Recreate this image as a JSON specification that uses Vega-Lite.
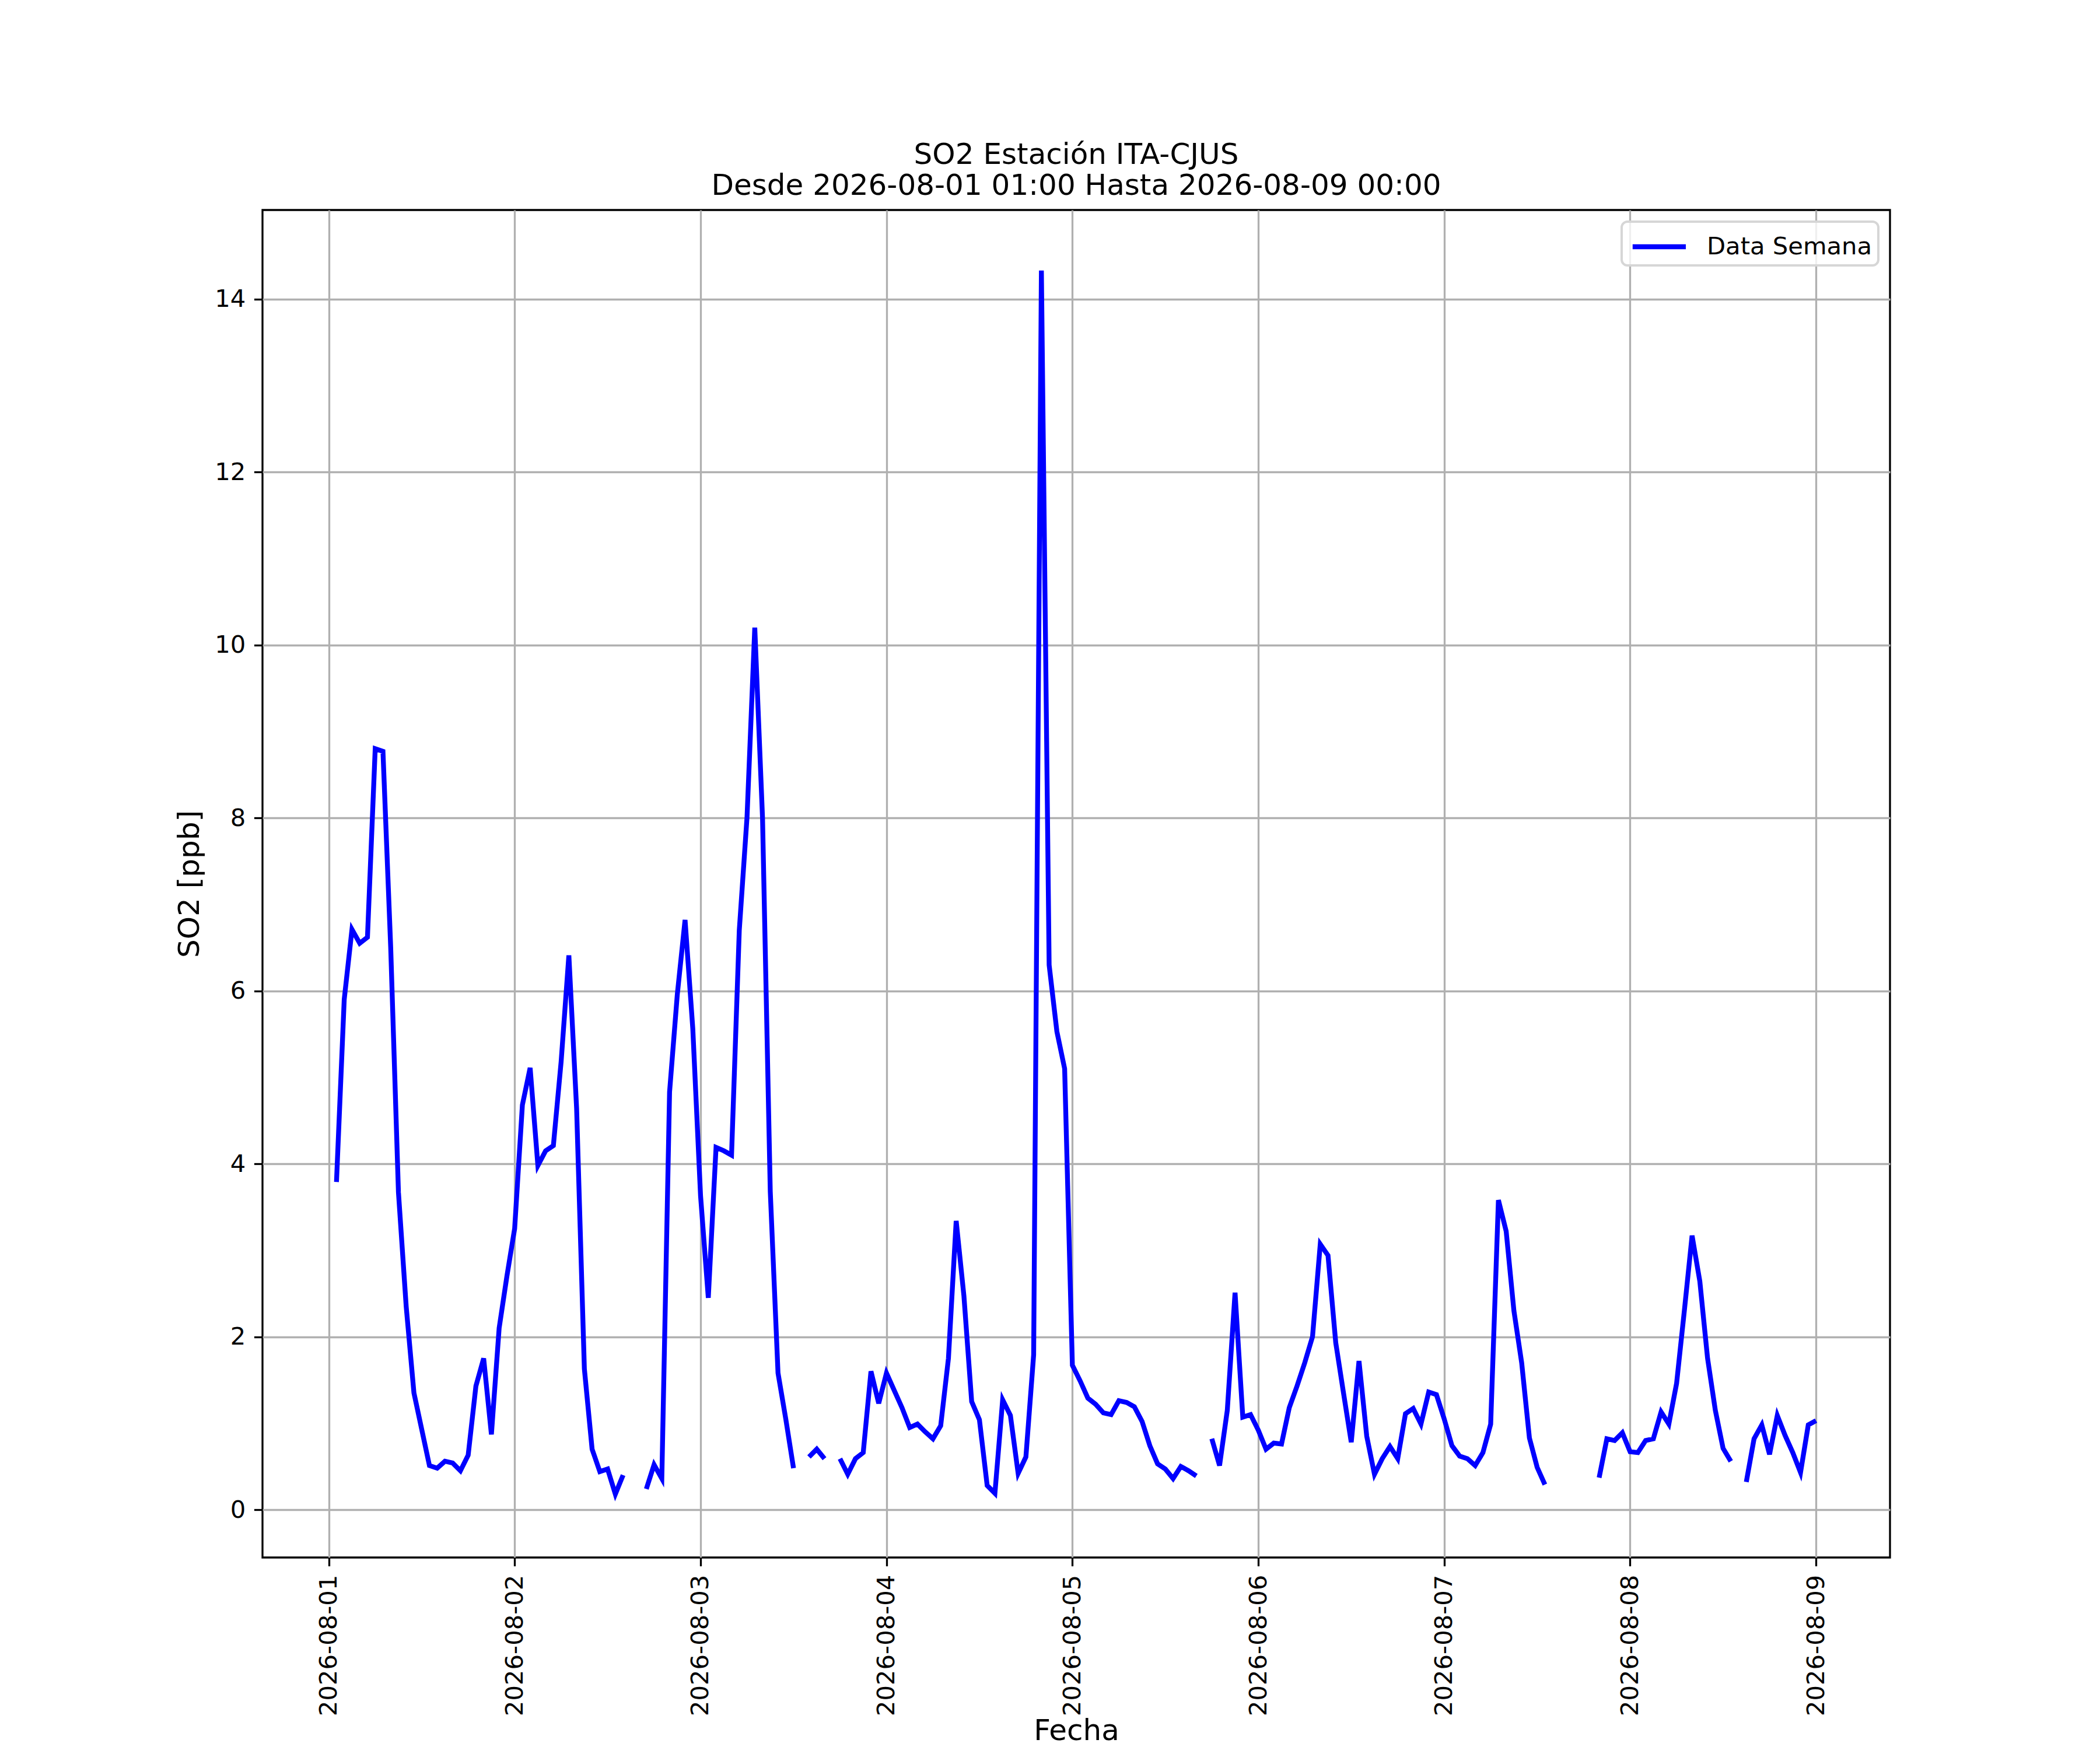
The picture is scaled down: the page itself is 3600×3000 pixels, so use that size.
{
  "$schema": "https://vega.github.io/schema/vega-lite/v6.json",
  "width": 2790,
  "height": 2310,
  "autosize": "none",
  "padding": {"left": 450, "top": 360, "right": 360, "bottom": 330},
  "background": "white",
  "title": {
    "text": ["SO2 Estación ITA-CJUS", "Desde 2026-08-01 01:00 Hasta 2026-08-09 00:00"],
    "font": "DejaVu Sans",
    "fontSize": 50,
    "fontWeight": "normal",
    "color": "black",
    "lineHeight": 53,
    "anchor": "middle",
    "baseline": "bottom",
    "offset": -34
  },
  "data": {
    "values": [
      {"Fecha": "2026-08-01T01:00:00Z", "SO2": 3.79},
      {"Fecha": "2026-08-01T02:00:00Z", "SO2": 5.90},
      {"Fecha": "2026-08-01T03:00:00Z", "SO2": 6.71},
      {"Fecha": "2026-08-01T04:00:00Z", "SO2": 6.55},
      {"Fecha": "2026-08-01T05:00:00Z", "SO2": 6.62},
      {"Fecha": "2026-08-01T06:00:00Z", "SO2": 8.80},
      {"Fecha": "2026-08-01T07:00:00Z", "SO2": 8.77},
      {"Fecha": "2026-08-01T08:00:00Z", "SO2": 6.50},
      {"Fecha": "2026-08-01T09:00:00Z", "SO2": 3.67},
      {"Fecha": "2026-08-01T10:00:00Z", "SO2": 2.35},
      {"Fecha": "2026-08-01T11:00:00Z", "SO2": 1.35},
      {"Fecha": "2026-08-01T12:00:00Z", "SO2": 0.93},
      {"Fecha": "2026-08-01T13:00:00Z", "SO2": 0.51},
      {"Fecha": "2026-08-01T14:00:00Z", "SO2": 0.48},
      {"Fecha": "2026-08-01T15:00:00Z", "SO2": 0.56},
      {"Fecha": "2026-08-01T16:00:00Z", "SO2": 0.54},
      {"Fecha": "2026-08-01T17:00:00Z", "SO2": 0.45},
      {"Fecha": "2026-08-01T18:00:00Z", "SO2": 0.63},
      {"Fecha": "2026-08-01T19:00:00Z", "SO2": 1.43},
      {"Fecha": "2026-08-01T20:00:00Z", "SO2": 1.75},
      {"Fecha": "2026-08-01T21:00:00Z", "SO2": 0.87},
      {"Fecha": "2026-08-01T22:00:00Z", "SO2": 2.10},
      {"Fecha": "2026-08-01T23:00:00Z", "SO2": 2.70},
      {"Fecha": "2026-08-02T00:00:00Z", "SO2": 3.25},
      {"Fecha": "2026-08-02T01:00:00Z", "SO2": 4.68},
      {"Fecha": "2026-08-02T02:00:00Z", "SO2": 5.11},
      {"Fecha": "2026-08-02T03:00:00Z", "SO2": 3.98},
      {"Fecha": "2026-08-02T04:00:00Z", "SO2": 4.15},
      {"Fecha": "2026-08-02T05:00:00Z", "SO2": 4.21},
      {"Fecha": "2026-08-02T06:00:00Z", "SO2": 5.18},
      {"Fecha": "2026-08-02T07:00:00Z", "SO2": 6.41},
      {"Fecha": "2026-08-02T08:00:00Z", "SO2": 4.64},
      {"Fecha": "2026-08-02T09:00:00Z", "SO2": 1.63},
      {"Fecha": "2026-08-02T10:00:00Z", "SO2": 0.70},
      {"Fecha": "2026-08-02T11:00:00Z", "SO2": 0.44},
      {"Fecha": "2026-08-02T12:00:00Z", "SO2": 0.47},
      {"Fecha": "2026-08-02T13:00:00Z", "SO2": 0.18},
      {"Fecha": "2026-08-02T14:00:00Z", "SO2": 0.40},
      {"Fecha": "2026-08-02T15:00:00Z", "SO2": null},
      {"Fecha": "2026-08-02T16:00:00Z", "SO2": null},
      {"Fecha": "2026-08-02T17:00:00Z", "SO2": 0.24},
      {"Fecha": "2026-08-02T18:00:00Z", "SO2": 0.52},
      {"Fecha": "2026-08-02T19:00:00Z", "SO2": 0.36},
      {"Fecha": "2026-08-02T20:00:00Z", "SO2": 4.83},
      {"Fecha": "2026-08-02T21:00:00Z", "SO2": 5.96},
      {"Fecha": "2026-08-02T22:00:00Z", "SO2": 6.82},
      {"Fecha": "2026-08-02T23:00:00Z", "SO2": 5.56},
      {"Fecha": "2026-08-03T00:00:00Z", "SO2": 3.63},
      {"Fecha": "2026-08-03T01:00:00Z", "SO2": 2.45},
      {"Fecha": "2026-08-03T02:00:00Z", "SO2": 4.19},
      {"Fecha": "2026-08-03T03:00:00Z", "SO2": 4.15},
      {"Fecha": "2026-08-03T04:00:00Z", "SO2": 4.10},
      {"Fecha": "2026-08-03T05:00:00Z", "SO2": 6.70},
      {"Fecha": "2026-08-03T06:00:00Z", "SO2": 8.01},
      {"Fecha": "2026-08-03T07:00:00Z", "SO2": 10.20},
      {"Fecha": "2026-08-03T08:00:00Z", "SO2": 8.00},
      {"Fecha": "2026-08-03T09:00:00Z", "SO2": 3.68},
      {"Fecha": "2026-08-03T10:00:00Z", "SO2": 1.58},
      {"Fecha": "2026-08-03T11:00:00Z", "SO2": 1.05},
      {"Fecha": "2026-08-03T12:00:00Z", "SO2": 0.48},
      {"Fecha": "2026-08-03T13:00:00Z", "SO2": null},
      {"Fecha": "2026-08-03T14:00:00Z", "SO2": 0.61},
      {"Fecha": "2026-08-03T15:00:00Z", "SO2": 0.70},
      {"Fecha": "2026-08-03T16:00:00Z", "SO2": 0.59},
      {"Fecha": "2026-08-03T17:00:00Z", "SO2": null},
      {"Fecha": "2026-08-03T18:00:00Z", "SO2": 0.59},
      {"Fecha": "2026-08-03T19:00:00Z", "SO2": 0.41},
      {"Fecha": "2026-08-03T20:00:00Z", "SO2": 0.59},
      {"Fecha": "2026-08-03T21:00:00Z", "SO2": 0.66},
      {"Fecha": "2026-08-03T22:00:00Z", "SO2": 1.60},
      {"Fecha": "2026-08-03T23:00:00Z", "SO2": 1.23},
      {"Fecha": "2026-08-04T00:00:00Z", "SO2": 1.58},
      {"Fecha": "2026-08-04T01:00:00Z", "SO2": 1.38},
      {"Fecha": "2026-08-04T02:00:00Z", "SO2": 1.18},
      {"Fecha": "2026-08-04T03:00:00Z", "SO2": 0.95},
      {"Fecha": "2026-08-04T04:00:00Z", "SO2": 0.99},
      {"Fecha": "2026-08-04T05:00:00Z", "SO2": 0.90},
      {"Fecha": "2026-08-04T06:00:00Z", "SO2": 0.82},
      {"Fecha": "2026-08-04T07:00:00Z", "SO2": 0.97},
      {"Fecha": "2026-08-04T08:00:00Z", "SO2": 1.75},
      {"Fecha": "2026-08-04T09:00:00Z", "SO2": 3.34},
      {"Fecha": "2026-08-04T10:00:00Z", "SO2": 2.47},
      {"Fecha": "2026-08-04T11:00:00Z", "SO2": 1.25},
      {"Fecha": "2026-08-04T12:00:00Z", "SO2": 1.04},
      {"Fecha": "2026-08-04T13:00:00Z", "SO2": 0.28},
      {"Fecha": "2026-08-04T14:00:00Z", "SO2": 0.19},
      {"Fecha": "2026-08-04T15:00:00Z", "SO2": 1.27},
      {"Fecha": "2026-08-04T16:00:00Z", "SO2": 1.09},
      {"Fecha": "2026-08-04T17:00:00Z", "SO2": 0.42},
      {"Fecha": "2026-08-04T18:00:00Z", "SO2": 0.61},
      {"Fecha": "2026-08-04T19:00:00Z", "SO2": 1.79},
      {"Fecha": "2026-08-04T20:00:00Z", "SO2": 14.33},
      {"Fecha": "2026-08-04T21:00:00Z", "SO2": 6.30},
      {"Fecha": "2026-08-04T22:00:00Z", "SO2": 5.53},
      {"Fecha": "2026-08-04T23:00:00Z", "SO2": 5.10},
      {"Fecha": "2026-08-05T00:00:00Z", "SO2": 1.67},
      {"Fecha": "2026-08-05T01:00:00Z", "SO2": 1.49},
      {"Fecha": "2026-08-05T02:00:00Z", "SO2": 1.29},
      {"Fecha": "2026-08-05T03:00:00Z", "SO2": 1.22},
      {"Fecha": "2026-08-05T04:00:00Z", "SO2": 1.12},
      {"Fecha": "2026-08-05T05:00:00Z", "SO2": 1.10},
      {"Fecha": "2026-08-05T06:00:00Z", "SO2": 1.26},
      {"Fecha": "2026-08-05T07:00:00Z", "SO2": 1.24},
      {"Fecha": "2026-08-05T08:00:00Z", "SO2": 1.19},
      {"Fecha": "2026-08-05T09:00:00Z", "SO2": 1.02},
      {"Fecha": "2026-08-05T10:00:00Z", "SO2": 0.74},
      {"Fecha": "2026-08-05T11:00:00Z", "SO2": 0.53},
      {"Fecha": "2026-08-05T12:00:00Z", "SO2": 0.47},
      {"Fecha": "2026-08-05T13:00:00Z", "SO2": 0.36},
      {"Fecha": "2026-08-05T14:00:00Z", "SO2": 0.50},
      {"Fecha": "2026-08-05T15:00:00Z", "SO2": 0.45},
      {"Fecha": "2026-08-05T16:00:00Z", "SO2": 0.39},
      {"Fecha": "2026-08-05T17:00:00Z", "SO2": null},
      {"Fecha": "2026-08-05T18:00:00Z", "SO2": 0.82},
      {"Fecha": "2026-08-05T19:00:00Z", "SO2": 0.51},
      {"Fecha": "2026-08-05T20:00:00Z", "SO2": 1.15},
      {"Fecha": "2026-08-05T21:00:00Z", "SO2": 2.51},
      {"Fecha": "2026-08-05T22:00:00Z", "SO2": 1.07},
      {"Fecha": "2026-08-05T23:00:00Z", "SO2": 1.10},
      {"Fecha": "2026-08-06T00:00:00Z", "SO2": 0.92},
      {"Fecha": "2026-08-06T01:00:00Z", "SO2": 0.70},
      {"Fecha": "2026-08-06T02:00:00Z", "SO2": 0.77},
      {"Fecha": "2026-08-06T03:00:00Z", "SO2": 0.76},
      {"Fecha": "2026-08-06T04:00:00Z", "SO2": 1.18},
      {"Fecha": "2026-08-06T05:00:00Z", "SO2": 1.43},
      {"Fecha": "2026-08-06T06:00:00Z", "SO2": 1.70},
      {"Fecha": "2026-08-06T07:00:00Z", "SO2": 2.00},
      {"Fecha": "2026-08-06T08:00:00Z", "SO2": 3.07},
      {"Fecha": "2026-08-06T09:00:00Z", "SO2": 2.94},
      {"Fecha": "2026-08-06T10:00:00Z", "SO2": 1.93},
      {"Fecha": "2026-08-06T11:00:00Z", "SO2": 1.35},
      {"Fecha": "2026-08-06T12:00:00Z", "SO2": 0.78},
      {"Fecha": "2026-08-06T13:00:00Z", "SO2": 1.72},
      {"Fecha": "2026-08-06T14:00:00Z", "SO2": 0.85},
      {"Fecha": "2026-08-06T15:00:00Z", "SO2": 0.41},
      {"Fecha": "2026-08-06T16:00:00Z", "SO2": 0.59},
      {"Fecha": "2026-08-06T17:00:00Z", "SO2": 0.73},
      {"Fecha": "2026-08-06T18:00:00Z", "SO2": 0.59},
      {"Fecha": "2026-08-06T19:00:00Z", "SO2": 1.11},
      {"Fecha": "2026-08-06T20:00:00Z", "SO2": 1.17},
      {"Fecha": "2026-08-06T21:00:00Z", "SO2": 0.99},
      {"Fecha": "2026-08-06T22:00:00Z", "SO2": 1.36},
      {"Fecha": "2026-08-06T23:00:00Z", "SO2": 1.33},
      {"Fecha": "2026-08-07T00:00:00Z", "SO2": 1.05},
      {"Fecha": "2026-08-07T01:00:00Z", "SO2": 0.74},
      {"Fecha": "2026-08-07T02:00:00Z", "SO2": 0.62},
      {"Fecha": "2026-08-07T03:00:00Z", "SO2": 0.59},
      {"Fecha": "2026-08-07T04:00:00Z", "SO2": 0.51},
      {"Fecha": "2026-08-07T05:00:00Z", "SO2": 0.66},
      {"Fecha": "2026-08-07T06:00:00Z", "SO2": 0.99},
      {"Fecha": "2026-08-07T07:00:00Z", "SO2": 3.58},
      {"Fecha": "2026-08-07T08:00:00Z", "SO2": 3.22},
      {"Fecha": "2026-08-07T09:00:00Z", "SO2": 2.30},
      {"Fecha": "2026-08-07T10:00:00Z", "SO2": 1.70},
      {"Fecha": "2026-08-07T11:00:00Z", "SO2": 0.83},
      {"Fecha": "2026-08-07T12:00:00Z", "SO2": 0.49},
      {"Fecha": "2026-08-07T13:00:00Z", "SO2": 0.29},
      {"Fecha": "2026-08-07T14:00:00Z", "SO2": null},
      {"Fecha": "2026-08-07T15:00:00Z", "SO2": null},
      {"Fecha": "2026-08-07T16:00:00Z", "SO2": null},
      {"Fecha": "2026-08-07T17:00:00Z", "SO2": null},
      {"Fecha": "2026-08-07T18:00:00Z", "SO2": null},
      {"Fecha": "2026-08-07T19:00:00Z", "SO2": null},
      {"Fecha": "2026-08-07T20:00:00Z", "SO2": 0.37},
      {"Fecha": "2026-08-07T21:00:00Z", "SO2": 0.82},
      {"Fecha": "2026-08-07T22:00:00Z", "SO2": 0.80},
      {"Fecha": "2026-08-07T23:00:00Z", "SO2": 0.89},
      {"Fecha": "2026-08-08T00:00:00Z", "SO2": 0.67},
      {"Fecha": "2026-08-08T01:00:00Z", "SO2": 0.66},
      {"Fecha": "2026-08-08T02:00:00Z", "SO2": 0.80},
      {"Fecha": "2026-08-08T03:00:00Z", "SO2": 0.82},
      {"Fecha": "2026-08-08T04:00:00Z", "SO2": 1.13},
      {"Fecha": "2026-08-08T05:00:00Z", "SO2": 0.99},
      {"Fecha": "2026-08-08T06:00:00Z", "SO2": 1.46},
      {"Fecha": "2026-08-08T07:00:00Z", "SO2": 2.30},
      {"Fecha": "2026-08-08T08:00:00Z", "SO2": 3.17},
      {"Fecha": "2026-08-08T09:00:00Z", "SO2": 2.64},
      {"Fecha": "2026-08-08T10:00:00Z", "SO2": 1.75},
      {"Fecha": "2026-08-08T11:00:00Z", "SO2": 1.15},
      {"Fecha": "2026-08-08T12:00:00Z", "SO2": 0.71},
      {"Fecha": "2026-08-08T13:00:00Z", "SO2": 0.56},
      {"Fecha": "2026-08-08T14:00:00Z", "SO2": null},
      {"Fecha": "2026-08-08T15:00:00Z", "SO2": 0.32},
      {"Fecha": "2026-08-08T16:00:00Z", "SO2": 0.82},
      {"Fecha": "2026-08-08T17:00:00Z", "SO2": 0.98},
      {"Fecha": "2026-08-08T18:00:00Z", "SO2": 0.64},
      {"Fecha": "2026-08-08T19:00:00Z", "SO2": 1.09},
      {"Fecha": "2026-08-08T20:00:00Z", "SO2": 0.86},
      {"Fecha": "2026-08-08T21:00:00Z", "SO2": 0.66},
      {"Fecha": "2026-08-08T22:00:00Z", "SO2": 0.43},
      {"Fecha": "2026-08-08T23:00:00Z", "SO2": 0.98},
      {"Fecha": "2026-08-09T00:00:00Z", "SO2": 1.03}
    ]
  },
  "mark": {
    "type": "line",
    "strokeWidth": 8.3,
    "strokeJoin": "miter",
    "strokeCap": "butt",
    "invalid": "break-paths-show-domains",
    "clip": true
  },
  "encoding": {
    "x": {
      "field": "Fecha",
      "type": "temporal",
      "scale": {
        "type": "utc",
        "domain": [
          {"year": 2026, "month": 7, "date": 31, "hours": 15, "minutes": 27, "utc": true},
          {"year": 2026, "month": 8, "date": 9, "hours": 9, "minutes": 33, "utc": true}
        ]
      },
      "axis": {
        "title": "Fecha",
        "format": "%Y-%m-%d",
        "labelAngle": -90,
        "labelLimit": 1000,
        "titlePadding": 72,
        "values": [
          {"year": 2026, "month": 8, "date": 1, "utc": true},
          {"year": 2026, "month": 8, "date": 2, "utc": true},
          {"year": 2026, "month": 8, "date": 3, "utc": true},
          {"year": 2026, "month": 8, "date": 4, "utc": true},
          {"year": 2026, "month": 8, "date": 5, "utc": true},
          {"year": 2026, "month": 8, "date": 6, "utc": true},
          {"year": 2026, "month": 8, "date": 7, "utc": true},
          {"year": 2026, "month": 8, "date": 8, "utc": true},
          {"year": 2026, "month": 8, "date": 9, "utc": true}
        ]
      }
    },
    "y": {
      "field": "SO2",
      "type": "quantitative",
      "scale": {"domain": [-0.553, 15.03], "nice": false, "zero": false},
      "axis": {
        "title": "SO2 [ppb]",
        "values": [0, 2, 4, 6, 8, 10, 12, 14]
      }
    },
    "color": {
      "datum": "Data Semana",
      "type": "nominal",
      "scale": {"range": ["#0000ff"]},
      "legend": {
        "title": null,
        "orient": "top-right",
        "offset": 20,
        "padding": 10,
        "symbolType": "M-0.85,0H2.35",
        "symbolSize": 3249,
        "symbolStrokeWidth": 8.3,
        "symbolFillColor": "transparent",
        "labelOffset": 70,
        "labelLimit": 1000,
        "labelFont": "DejaVu Sans",
        "labelFontSize": 41.7,
        "labelColor": "black",
        "strokeColor": "#d6d6d6",
        "fillColor": "rgba(255,255,255,0.8)",
        "cornerRadius": 10,
        "encode": {
          "legend": {"update": {"strokeWidth": {"value": 4}}}
        }
      }
    }
  },
  "config": {
    "view": {"stroke": "black", "strokeWidth": 3.3},
    "axis": {
      "domain": false,
      "grid": true,
      "gridColor": "#b0b0b0",
      "gridWidth": 3.3,
      "gridOpacity": 1,
      "ticks": true,
      "tickColor": "black",
      "tickSize": 14.6,
      "tickWidth": 3.3,
      "labelPadding": 14.6,
      "labelFont": "DejaVu Sans",
      "labelFontSize": 41.7,
      "labelColor": "black",
      "labelOverlap": false,
      "labelFlush": false,
      "titleFont": "DejaVu Sans",
      "titleFontSize": 50,
      "titleFontWeight": "normal",
      "titleColor": "black",
      "titlePadding": 17
    }
  }
}
